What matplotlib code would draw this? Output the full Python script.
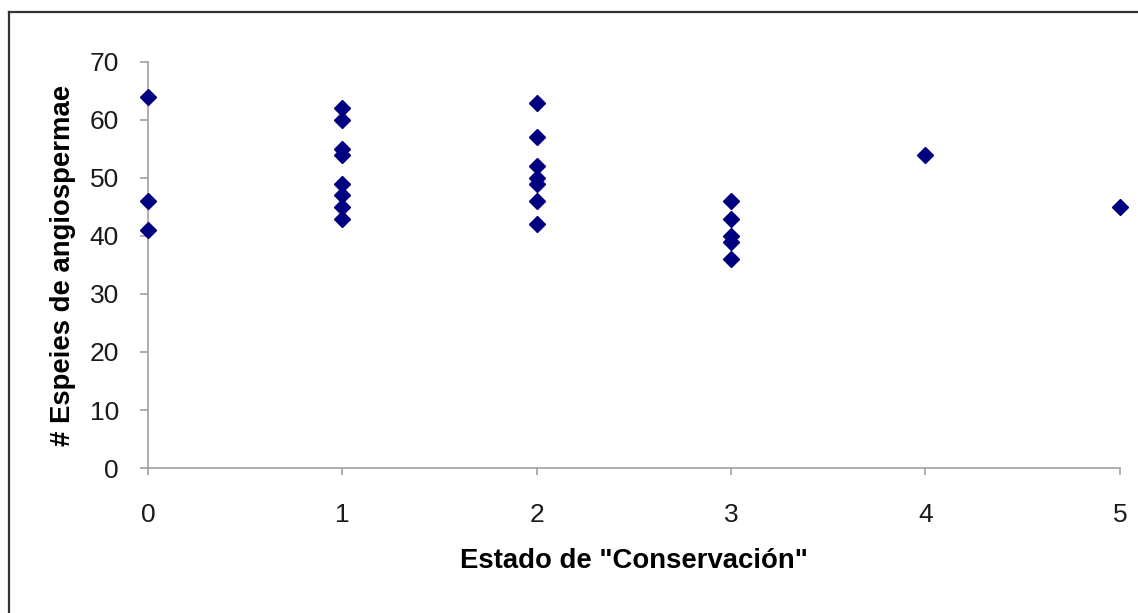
import matplotlib.pyplot as plt
from matplotlib.lines import Line2D

plt.rcParams['font.family'] = ['Liberation Sans', 'DejaVu Sans']

# Estado de conservacion vs numero de especies
estado = [0, 0, 0,
          1, 1, 1, 1, 1, 1, 1, 1,
          2, 2, 2, 2, 2, 2, 2,
          3, 3, 3, 3, 3,
          4,
          5]
especies = [64, 46, 41,
            62, 60, 55, 54, 49, 47, 45, 43,
            63, 57, 52, 50, 49, 46, 42,
            46, 43, 40, 39, 36,
            54,
            45]

x_ticks = [0, 1, 2, 3, 4, 5]
y_ticks = [0, 10, 20, 30, 40, 50, 60, 70]

fig = plt.figure(figsize=(11.38, 6.13), dpi=100)
ax = fig.add_axes([0.130, 0.2365, 0.854, 0.6625])

ax.plot(estado, especies, linestyle='none', marker='D', markersize=8,
        color='#000080', clip_on=False, zorder=3)

ax.set_xlim(0, 5)
ax.set_ylim(0, 70)
ax.set_xticks(x_ticks)
ax.set_yticks(y_ticks)

for s in ['top', 'right']:
    ax.spines[s].set_visible(False)
for s in ['left', 'bottom']:
    ax.spines[s].set_color('#a0a0a0')
    ax.spines[s].set_linewidth(1.2)

ax.tick_params(axis='y', length=6, width=1.2, color='#a0a0a0', pad=15,
               labelsize=19, labelcolor='#1a1a1a')
ax.tick_params(axis='x', length=5, width=1.2, color='#a0a0a0', pad=20,
               labelsize=19, labelcolor='#1a1a1a')

ax.set_xlabel('Estado de "Conservación"', fontsize=19.8, fontweight='bold',
              labelpad=15.5)
ax.set_ylabel('# Espeies de angiospermae', fontsize=19.8, fontweight='bold',
              labelpad=10)

# outer chart border (cut off at the right and bottom)
fig.add_artist(Line2D([8.5 / 1138, 8.5 / 1138], [0, 1 - 11.5 / 613],
                      transform=fig.transFigure, color='#333333', lw=1.6))
fig.add_artist(Line2D([8.5 / 1138, 1], [1 - 11.5 / 613, 1 - 11.5 / 613],
                      transform=fig.transFigure, color='#333333', lw=1.6))

plt.savefig('out.png', dpi=100)
plt.close()
